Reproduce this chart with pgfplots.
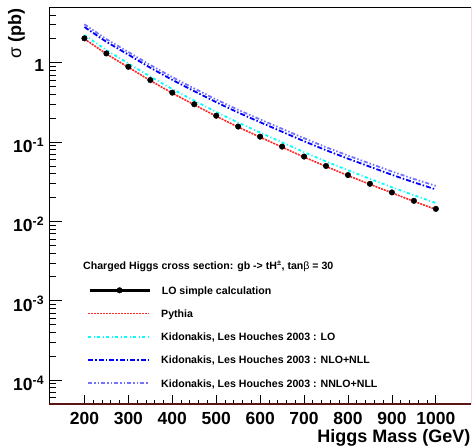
\documentclass[border=0pt]{standalone}
\usepackage{fontspec}
\setmainfont{Liberation Sans}
\usepackage{pgfplots}
\pgfplotsset{compat=1.18}
\definecolor{lavnd}{rgb}{0.45,0.45,1}
\definecolor{axred}{rgb}{0.35,0.08,0.08}
\definecolor{edgepink}{rgb}{0.97,0.85,0.88}
\definecolor{cyn}{rgb}{0,1,1}
\definecolor{pyred}{rgb}{1,0.15,0.15}
\tikzset{
  pyth/.style={draw=pyred, line width=1.6pt, dash pattern=on 2pt off 1pt},
  klo/.style={draw=cyn, line width=1.8pt, dash pattern=on 3pt off 2.5pt on 1pt off 2.5pt},
  knlo/.style={draw=blue, line width=1.8pt, dash pattern=on 5pt off 2pt on 1.5pt off 2pt},
  knnlo/.style={draw=lavnd, line width=1.8pt, dash pattern=on 4pt off 2pt on 1.5pt off 2pt on 1.5pt off 2pt},
  legtxt/.style={anchor=base west, inner sep=0pt, font=\fontsize{10.6}{11}\selectfont\bfseries},
}

\begin{document}
\begin{tikzpicture}[x=1pt,y=1pt]
\path[use as bounding box] (0,0) rectangle (472,446);
\begin{axis}[
  at={(49.3pt,42pt)}, anchor=south west,
  scale only axis, width=421.7pt, height=396.7pt,
  ymode=log, xmin=120, xmax=1080, ymin=5e-5, ymax=5,
  clip=false,
  axis line style={draw=none},
  tick align=inside, xtick pos=left, ytick pos=left,
  tick style={black, line width=0.8pt},
  major tick length=12.7pt, minor tick length=6.3pt,
  xtick style={/pgfplots/major tick length=8.7pt,/pgfplots/minor tick length=4.3pt},
  xtick={200,300,400,500,600,700,800,900,1000},
  xticklabels={200,300,400,500,600,700,800,900,1000},
  minor x tick num=4,
  ytick={1e-4,1e-3,1e-2,1e-1,1},
  yticklabels={10\textsuperscript{-4},10\textsuperscript{-3},10\textsuperscript{-2},10\textsuperscript{-1},1},
  minor ytick={6e-5,7e-5,8e-5,9e-5,2e-4,3e-4,4e-4,5e-4,6e-4,7e-4,8e-4,9e-4,
    2e-3,3e-3,4e-3,5e-3,6e-3,7e-3,8e-3,9e-3,2e-2,3e-2,4e-2,5e-2,6e-2,7e-2,8e-2,9e-2,
    0.2,0.3,0.4,0.5,0.6,0.7,0.8,0.9,2,3,4},
  xticklabel style={font=\fontsize{17.5}{18}\selectfont\bfseries, inner sep=0pt, yshift=-7.7pt},
  yticklabel style={font=\fontsize{17.5}{18}\selectfont\bfseries, inner sep=0pt, xshift=-5pt, yshift=-3pt},
  legend style={at={(0.0925,0.2987)}, anchor=north west, draw=none, fill=none,
    inner sep=0pt, outer sep=0pt, column sep=11pt,
    font=\fontsize{10.6}{11}\selectfont\bfseries,
    nodes={inner sep=0pt, text height=8.6pt, text depth=1pt}},
  legend cell align=left,
]
% LO simple calculation (points only)
\addplot[only marks, mark=*, mark size=2.8pt, black,
  legend image code/.code={\draw[black, line width=2.5pt] (0pt,0pt) -- (60pt,0pt);
    \draw[black, mark=*, mark size=2.8pt] plot coordinates {(30pt,0pt)};}] coordinates {
  (200,2.03)(250,1.31)(300,0.89)(350,0.605)(400,0.42)(450,0.30)(500,0.215)
  (550,0.157)(600,0.117)(650,0.0877)(700,0.0657)(750,0.050)(800,0.0384)
  (850,0.0298)(900,0.0232)(950,0.0182)(1000,0.0144)
};
\addlegendentry{LO simple calculation}
% Pythia
\addplot[pyth, forget plot] coordinates {
  (200,2.00)(250,1.29)(300,0.877)(350,0.596)(400,0.414)(450,0.2955)(500,0.212)
  (550,0.1547)(600,0.1153)(650,0.0864)(700,0.0647)(750,0.0493)(800,0.0378)
  (850,0.0294)(900,0.0229)(950,0.0179)(1000,0.0142)
};
% Kidonakis LO
\addplot[klo, forget plot] coordinates {
  (200,2.233)(250,1.441)(300,0.979)(350,0.669)(400,0.466)(450,0.333)(500,0.240)
  (550,0.176)(600,0.132)(650,0.0991)(700,0.0746)(750,0.0570)(800,0.0442)
  (850,0.0344)(900,0.0270)(950,0.0214)(1000,0.0171)
};
% Kidonakis NLO+NLL
\addplot[knlo, forget plot] coordinates {
  (200,2.82)(250,1.834)(300,1.264)(350,0.865)(400,0.609)(450,0.438)(500,0.318)
  (550,0.2355)(600,0.178)(650,0.135)(700,0.1025)(750,0.079)(800,0.0618)
  (850,0.0489)(900,0.0387)(950,0.0311)(1000,0.0253)
};
% Kidonakis NNLO+NLL
\addplot[knnlo, forget plot] coordinates {
  (200,3.05)(250,1.98)(300,1.365)(350,0.935)(400,0.658)(450,0.474)(500,0.344)
  (550,0.255)(600,0.193)(650,0.147)(700,0.112)(750,0.0862)(800,0.0676)
  (850,0.0536)(900,0.0426)(950,0.0343)(1000,0.0281)
};
% frame
\draw[black, line width=1.3pt] (rel axis cs:0,0) -- (rel axis cs:0,1) -- (rel axis cs:1,1);
\draw[edgepink, line width=1pt] (rel axis cs:1,1) -- (rel axis cs:1,0);
\draw[axred, line width=1.8pt] (rel axis cs:0,0) -- (rel axis cs:1,0);
\end{axis}
% legend rows for the line series
\draw[pyth]  (88.3,132.5) -- (149,132.5);
\draw[klo]   (88.3,109.3) -- (149,109.3);
\draw[knlo]  (88.3,86.0)  -- (149,86.0);
\draw[knnlo] (88.3,62.7)  -- (149,62.7);
\node[legtxt] at (161,128.9) {Pythia};
\node[legtxt] at (161,105.5) {Kidonakis, Les Houches 2003 : LO};
\node[legtxt] at (161,82.2)  {Kidonakis, Les Houches 2003 : NLO+NLL};
\node[legtxt] at (161,58.9)  {Kidonakis, Les Houches 2003 : NNLO+NLL};
\node[anchor=west, inner sep=0pt, font=\fontsize{10.6}{11}\selectfont\bfseries] at (83,180)
  {Charged Higgs cross section: gb -> tH\textsuperscript{±}, tan{\mdseries β} = 30};
\node[rotate=90, anchor=base east, inner sep=0pt, font=\fontsize{18}{18}\selectfont\bfseries] at (21,438)
  {{\mdseries σ} (pb)};
\node[anchor=base east, inner sep=0pt, font=\fontsize{18}{18}\selectfont\bfseries] at (470.7,3.3)
  {Higgs Mass (GeV)};
\end{tikzpicture}
\end{document}
